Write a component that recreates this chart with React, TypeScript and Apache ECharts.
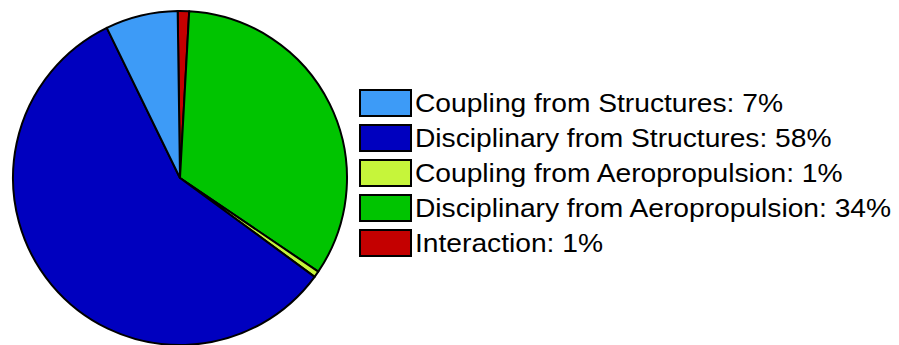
import React, { useEffect, useRef } from "react";
import * as echarts from "echarts";

// Clockwise order starting at 12 o'clock
const sliceNames = [
  "Interaction",
  "Disciplinary from Aeropropulsion",
  "Coupling from Aeropropulsion",
  "Disciplinary from Structures",
  "Coupling from Structures",
];
const sliceValues = [1.1, 33.6, 0.6, 57.7, 7.0];
const sliceColors = ["#c40000", "#00c400", "#c6f53a", "#0000bf", "#3d9bf7"];

// Legend order as shown
const legendOrder = [
  "Coupling from Structures",
  "Disciplinary from Structures",
  "Coupling from Aeropropulsion",
  "Disciplinary from Aeropropulsion",
  "Interaction",
];

export default function App() {
  const ref = useRef<HTMLDivElement>(null);
  useEffect(() => {
    document.body.style.margin = "0";
    if (!ref.current) return;
    const chart = echarts.init(ref.current, undefined, { renderer: "svg" });
    const total = sliceValues.reduce((a, b) => a + b, 0);
    const pct: Record<string, number> = {};
    const col: Record<string, string> = {};
    sliceNames.forEach((n, i) => {
      pct[n] = Math.round((sliceValues[i] / total) * 100);
      col[n] = sliceColors[i];
    });
    const legendX = 360;
    const legendY = 90;
    const rowH = 35;
    const legendEls: any[] = [];
    legendOrder.forEach((n, i) => {
      legendEls.push({
        type: "rect",
        x: legendX,
        y: legendY + i * rowH,
        shape: { x: 0, y: 0, width: 51, height: 26 },
        style: { fill: col[n], stroke: "#000", lineWidth: 2 },
        silent: true,
      });
      legendEls.push({
        type: "text",
        x: legendX + 55,
        y: legendY + i * rowH + 14,
        scaleX: 1.128,
        style: {
          text: `${n}: ${pct[n]}%`,
          fill: "#000",
          font: "25px 'Liberation Sans', Arial, sans-serif",
          verticalAlign: "middle",
          align: "left",
        },
        silent: true,
      });
    });
    chart.setOption({
      animation: false,
      backgroundColor: "#ffffff",
      graphic: { elements: legendEls },
      series: [
        {
          type: "pie",
          center: [180, 178],
          radius: 167,
          startAngle: 90.8,
          clockwise: true,
          label: { show: false },
          labelLine: { show: false },
          emphasis: { disabled: true },
          silent: true,
          itemStyle: { borderColor: "#000", borderWidth: 2 },
          data: sliceNames.map((n, i) => ({
            name: n,
            value: sliceValues[i],
            itemStyle: { color: sliceColors[i] },
          })),
        },
      ],
    });
    return () => chart.dispose();
  }, []);
  return <div ref={ref} style={{ width: 899, height: 345 }} />;
}
